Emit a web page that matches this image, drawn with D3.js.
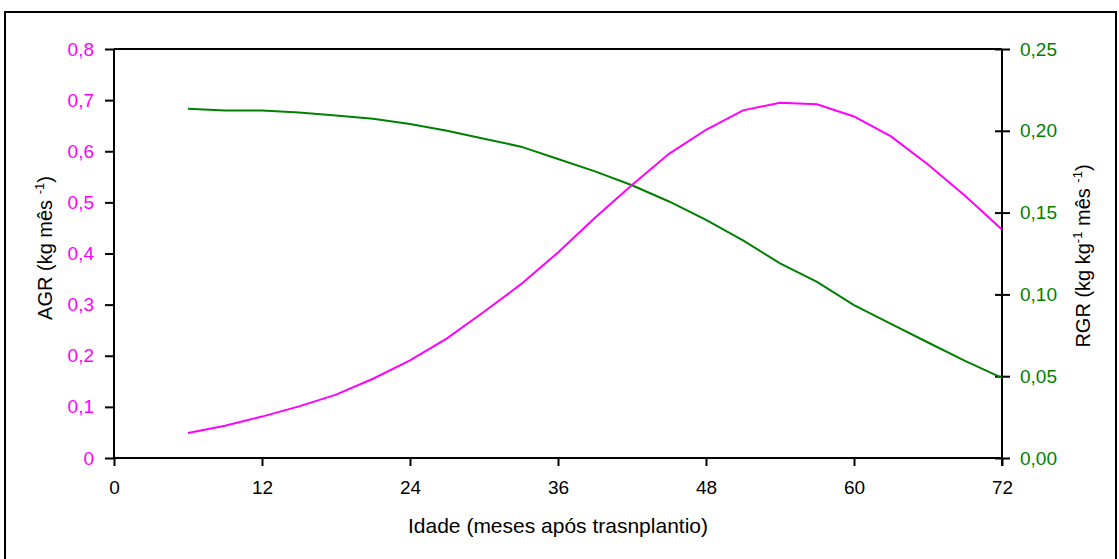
<!DOCTYPE html>
<html><head><meta charset="utf-8">
<script src="https://cdn.jsdelivr.net/npm/d3@7"></script>
<style>body{margin:0;background:#fff}svg{display:block}text{font-family:"Liberation Sans",Arial,sans-serif}</style>
</head><body>
<script>
const months = [6,9,12,15,18,21,24,27,30,33,36,39,42,45,48,51,54,57,60,63,66,69,72];
const agr = [0.049,0.063,0.081,0.101,0.124,0.155,0.191,0.234,0.286,0.340,0.402,0.470,0.534,0.595,0.642,0.680,0.695,0.692,0.668,0.629,0.574,0.513,0.447];
const rgr = [0.2135,0.2124,0.2124,0.2112,0.2093,0.2073,0.2042,0.2000,0.1952,0.1903,0.1828,0.1752,0.1667,0.1568,0.1455,0.1330,0.1190,0.1076,0.0935,0.0820,0.0706,0.0594,0.0490];
const xTicks = [0,12,24,36,48,60,72];
const yLeftTicks = [0,0.1,0.2,0.3,0.4,0.5,0.6,0.7,0.8];
const yRightTicks = [0,0.05,0.10,0.15,0.20,0.25];
const xTitle = "Idade (meses após trasnplantio)";

const W=1119,H=559;
const M={l:114,r:1002,t:49,b:458};
const MAG="#FF00FF", GRN="#008000";
const svg=d3.select("body").append("svg").attr("width",W).attr("height",H);
svg.append("rect").attr("x",5).attr("y",12).attr("width",1111).attr("height",560).attr("fill","none").attr("stroke","#000").attr("stroke-width",2);

const x=d3.scaleLinear().domain([0,72]).range([M.l,M.r]);
const yL=d3.scaleLinear().domain([0,0.8]).range([M.b,M.t]);
const yR=d3.scaleLinear().domain([0,0.25]).range([M.b,M.t]);
const fmt=(d,n)=>d.toFixed(n).replace(".",",");

svg.append("line").attr("x1",M.l).attr("x2",M.r).attr("y1",M.t).attr("y2",M.t).attr("stroke","#000").attr("stroke-width",2);

const gx=svg.append("g").attr("transform",`translate(0,${M.b})`)
 .call(d3.axisBottom(x).tickValues(xTicks).tickSize(8).tickPadding(15).tickFormat(d=>d));
const gl=svg.append("g").attr("transform",`translate(${M.l},0)`)
 .call(d3.axisLeft(yL).tickValues(yLeftTicks).tickSize(9).tickPadding(11).tickFormat(d=>d===0?"0":fmt(d,1)));
const gr=svg.append("g").attr("transform",`translate(${M.r},0)`)
 .call(d3.axisRight(yR).tickValues(yRightTicks).tickSize(8).tickPadding(10).tickFormat(d=>fmt(d,2)));
gr.selectAll(".tick line").attr("x1",-7);
[gx,gl,gr].forEach(g=>{
  g.select(".domain").attr("stroke","#000").attr("stroke-width",2);
  g.selectAll(".tick line").attr("stroke","#000").attr("stroke-width",2);
  g.selectAll("text").attr("font-size",19).attr("font-family","Liberation Sans, Arial, sans-serif");
});
gx.select(".domain").attr("d",`M${M.l},0H${M.r}`);
gl.select(".domain").attr("d",`M0,${M.b}V${M.t}`);
gr.select(".domain").attr("d",`M0,${M.b+8}V${M.t}`);
gx.selectAll("text").attr("fill","#000");
gl.selectAll("text").attr("fill",MAG);
gr.selectAll("text").attr("fill",GRN);

const lineL=d3.line().x((d,i)=>x(months[i])).y(d=>yL(d));
const lineR=d3.line().x((d,i)=>x(months[i])).y(d=>yR(d));
svg.append("path").attr("d",lineR(rgr)).attr("fill","none").attr("stroke",GRN).attr("stroke-width",2);
svg.append("path").attr("d",lineL(agr)).attr("fill","none").attr("stroke",MAG).attr("stroke-width",2);

svg.append("text").attr("x",(M.l+M.r)/2).attr("y",533).attr("text-anchor","middle").attr("font-size",21).text(xTitle);

const lt=svg.append("text").attr("transform","translate(52,248) rotate(-90)").attr("text-anchor","middle").attr("font-size",20);
lt.append("tspan").text("AGR (kg mês ");
lt.append("tspan").attr("font-size",13).attr("dy",-8).text("-1");
lt.append("tspan").attr("dy",8).text(")");

const rt=svg.append("text").attr("transform","translate(1090,256) rotate(-90)").attr("text-anchor","middle").attr("font-size",20);
rt.append("tspan").text("RGR (kg kg");
rt.append("tspan").attr("font-size",13).attr("dy",-8).text("-1");
rt.append("tspan").attr("dy",8).text(" mês ");
rt.append("tspan").attr("font-size",13).attr("dy",-8).text("-1");
rt.append("tspan").attr("dy",8).text(")");
</script>
</body></html>
